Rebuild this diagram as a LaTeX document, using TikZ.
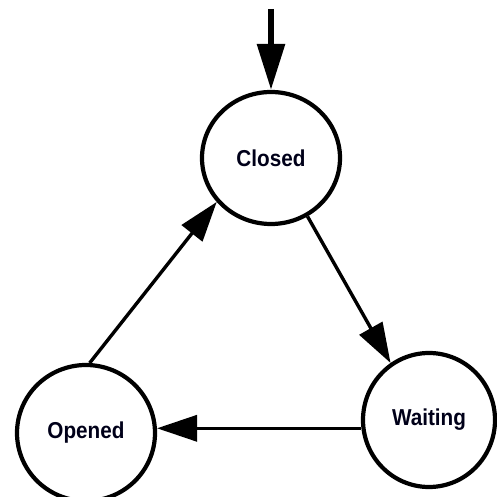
\documentclass[tikz,border=0pt]{standalone}
\usepackage{fontspec}
\setmainfont{Liberation Sans}[FakeStretch=0.9]
\usetikzlibrary{arrows.meta,shapes.geometric}

\tikzset{
  state/.style={ellipse, draw=black, line width=4.2pt, fill=white,
    inner sep=0pt, minimum width=134pt, minimum height=132pt,
    font=\fontsize{23}{23}\selectfont\bfseries, text=black!90!blue},
  trans/.style={line width=3.4pt, -{Triangle[length=40pt,width=26pt]}},
  entry/.style={line width=6pt, -{Triangle[length=46pt,width=27pt]}}
}

\begin{document}
\begin{tikzpicture}[x=1pt,y=1pt]
  \useasboundingbox (0,0) rectangle (496,497);

  % the three states
  \node[state, minimum width=138pt, minimum height=132pt] (closed)  at (271,339) {Closed};
  \node[state, minimum width=138pt, minimum height=136pt] (opened)  at (86,64)   {Opened};
  \node[state, minimum width=132pt, minimum height=134pt] (waiting) at (429,77)  {Waiting};

  % initial transition
  \coordinate (init) at ([yshift=81pt]closed.north);
  \draw[entry] (init) -- (closed.north);

  % cycle of transitions
  \draw[trans] (closed.-58) -- (waiting.124);
  \draw[trans] (waiting.187) -- (opened.-3 |- waiting.187);
  \draw[trans] (opened.87) -- (closed.219);
\end{tikzpicture}
\end{document}
